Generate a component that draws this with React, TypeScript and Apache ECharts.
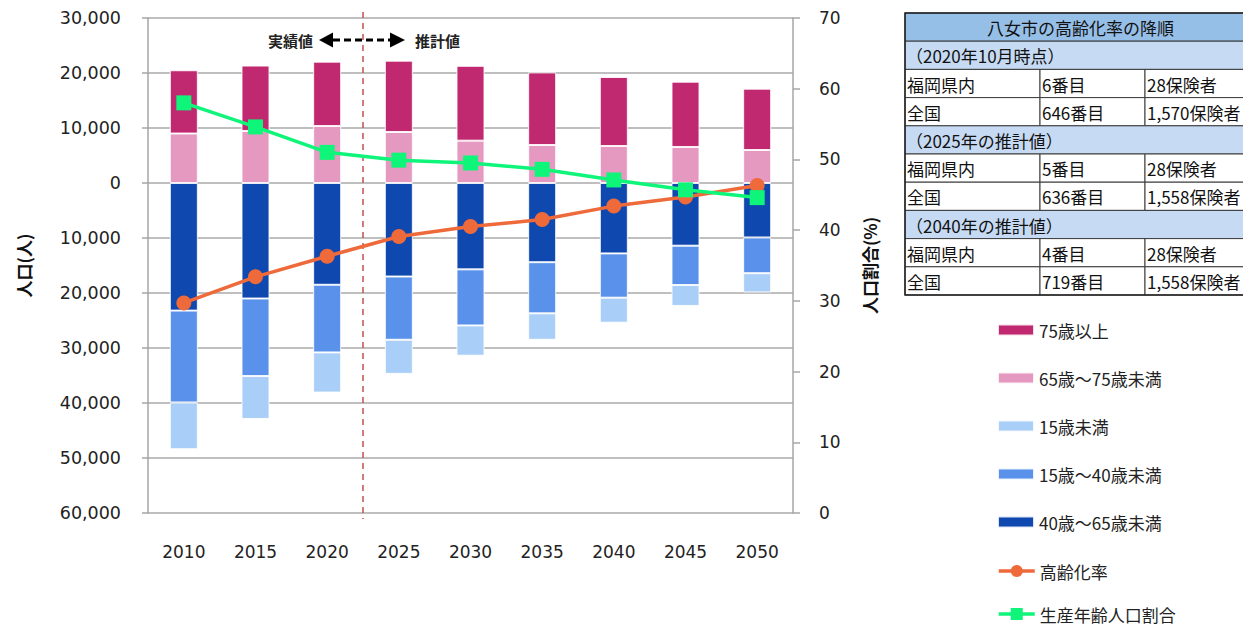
import React, { useEffect, useRef } from "react";
import * as echarts from "echarts";

const years = ["2010", "2015", "2020", "2025", "2030", "2035", "2040", "2045", "2050"];
const age75plus = [11500, 11900, 11700, 12970, 13600, 13200, 12540, 11870, 11150];
const age65to75 = [9000, 9450, 10360, 9270, 7700, 6910, 6730, 6550, 6000];
const under15 = [8500, 7800, 7300, 6200, 5500, 4800, 4550, 3800, 3500];
const age15to40 = [16700, 14100, 12300, 11500, 10200, 9300, 8050, 7150, 6500];
const age40to65 = [23200, 21000, 18500, 17000, 15700, 14400, 12800, 11400, 9900];
const agingRate = [29.7, 33.4, 36.3, 39.1, 40.5, 41.5, 43.4, 44.7, 46.3];
const workingRate = [58.0, 54.6, 51.0, 49.9, 49.5, 48.6, 47.1, 45.7, 44.6];

const barLegendNames = ["75歳以上", "65歳～75歳未満", "15歳未満", "15歳～40歳未満", "40歳～65歳未満"];
const lineLegendNames = ["高齢化率", "生産年齢人口割合"];

const tableTitle = "八女市の高齢化率の降順";
const tableSections = [
  { title: "（2020年10月時点）", rows: [["福岡県内", "6番目", "28保険者"], ["全国", "646番目", "1,570保険者"]] },
  { title: "（2025年の推計値）", rows: [["福岡県内", "5番目", "28保険者"], ["全国", "636番目", "1,558保険者"]] },
  { title: "（2040年の推計値）", rows: [["福岡県内", "4番目", "28保険者"], ["全国", "719番目", "1,558保険者"]] },
];

const FONT = '"DejaVu Sans", "Noto Sans CJK JP", sans-serif';
const CJK = '"Noto Sans CJK JP", "DejaVu Sans", sans-serif';

function buildTable(): any[] {
  const x0 = 905;
  const x1 = 1040;
  const x2 = 1145;
  const xEnd = 1256;
  const top = 13;
  const rh = 28.2;
  const els: any[] = [];
  const border = "#3a3a3a";
  let y = top;
  const addText = (t: string, x: number, yy: number, align = "left") =>
    els.push({
      type: "text",
      x,
      y: yy + rh / 2 + 0.5,
      style: { text: t, font: `17px ${CJK}`, fill: "#111", textAlign: align, textVerticalAlign: "middle" },
      z: 10,
    });
  els.push({ type: "rect", shape: { x: x0, y, width: xEnd - x0, height: rh }, style: { fill: "#96bfe8", stroke: border, lineWidth: 1 } });
  addText(tableTitle, (x0 + xEnd) / 2, y, "center");
  y += rh;
  tableSections.forEach((sec) => {
    els.push({ type: "rect", shape: { x: x0, y, width: xEnd - x0, height: rh }, style: { fill: "#c6dbf3", stroke: border, lineWidth: 1 } });
    addText(sec.title, x0 + 1, y);
    y += rh;
    sec.rows.forEach((r) => {
      els.push({ type: "rect", shape: { x: x0, y, width: x1 - x0, height: rh }, style: { fill: "#fff", stroke: border, lineWidth: 1 } });
      els.push({ type: "rect", shape: { x: x1, y, width: x2 - x1, height: rh }, style: { fill: "#fff", stroke: border, lineWidth: 1 } });
      els.push({ type: "rect", shape: { x: x2, y, width: xEnd - x2, height: rh }, style: { fill: "#fff", stroke: border, lineWidth: 1 } });
      addText(r[0], x0 + 2, y);
      addText(r[1], x1 + 2, y);
      addText(r[2], x2 + 2, y);
      y += rh;
    });
  });
  els.push({ type: "rect", shape: { x: x0, y: top, width: xEnd - x0, height: y - top }, style: { fill: "none", stroke: "#222", lineWidth: 1.5 }, z: 11 });
  return els;
}

export default function App() {
  const ref = useRef<HTMLDivElement>(null);
  useEffect(() => {
    document.body.style.margin = "0";
    const chart = echarts.init(ref.current!, null, { renderer: "svg" });
    const barBase = { type: "bar", stack: "pop", barWidth: 28, itemStyle: { borderColor: "rgba(255,255,255,0.85)", borderWidth: 1 } };
    const legendText = { fontFamily: CJK, fontSize: 17, color: "#222", lineHeight: 18 };
    const option: any = {
      animation: false,
      textStyle: { fontFamily: FONT },
      grid: { left: 148, top: 18, width: 645, height: 495, containLabel: false },
      legend: [
        {
          orient: "vertical",
          left: 997,
          top: 321,
          padding: 0,
          itemWidth: 36,
          itemHeight: 11,
          itemGap: 30,
          data: barLegendNames.map((n) => ({ name: n, icon: "rect" })),
          textStyle: legendText,
        },
        {
          orient: "vertical",
          left: 997,
          top: 562,
          padding: 0,
          itemWidth: 36,
          itemHeight: 15,
          itemGap: 25,
          data: lineLegendNames,
          lineStyle: { width: 3.5 },
          textStyle: legendText,
        },
      ],
      xAxis: {
        type: "category",
        data: years,
        axisLine: { show: false },
        axisTick: { show: false },
        axisLabel: { fontSize: 17, color: "#222", margin: 30, fontFamily: FONT },
      },
      yAxis: [
        {
          type: "value",
          min: -60000,
          max: 30000,
          interval: 10000,
          name: "人口(人)",
          nameLocation: "middle",
          nameGap: 116,
          nameRotate: 90,
          nameTextStyle: { fontFamily: CJK, fontSize: 17, fontWeight: "bold", color: "#111" },
          axisLine: { show: true, lineStyle: { color: "#a6a6a6", width: 1.5 } },
          axisTick: { show: true, length: 6, lineStyle: { color: "#a6a6a6", width: 1.5 } },
          axisLabel: {
            fontSize: 17.5,
            color: "#222",
            margin: 27,
            formatter: (v: number) => Math.abs(v).toLocaleString("en-US"),
          },
          splitLine: { show: true, lineStyle: { color: "#bfbfbf", width: 2 } },
        },
        {
          type: "value",
          min: 0,
          max: 70,
          interval: 10,
          name: "人口割合(%)",
          nameLocation: "middle",
          nameGap: 68,
          nameRotate: 90,
          nameTextStyle: { fontFamily: CJK, fontSize: 17, fontWeight: "bold", color: "#111" },
          axisLine: { show: true, lineStyle: { color: "#a6a6a6", width: 1.5 } },
          axisTick: { show: true, length: 7, lineStyle: { color: "#a6a6a6", width: 1.5 } },
          axisLabel: { fontSize: 17, color: "#222", margin: 26 },
          splitLine: { show: false },
        },
      ],
      series: [
        { ...barBase, name: "65歳～75歳未満", data: age65to75, itemStyle: { ...barBase.itemStyle, color: "#e699c0" } },
        { ...barBase, name: "75歳以上", data: age75plus, itemStyle: { ...barBase.itemStyle, color: "#c0296f" } },
        { ...barBase, name: "40歳～65歳未満", data: age40to65.map((v) => -v), itemStyle: { ...barBase.itemStyle, color: "#0f48af" } },
        { ...barBase, name: "15歳～40歳未満", data: age15to40.map((v) => -v), itemStyle: { ...barBase.itemStyle, color: "#5a92eb" } },
        { ...barBase, name: "15歳未満", data: under15.map((v) => -v), itemStyle: { ...barBase.itemStyle, color: "#a9cef7" } },
        {
          type: "line",
          name: "高齢化率",
          yAxisIndex: 1,
          data: agingRate,
          symbol: "circle",
          symbolSize: 15,
          lineStyle: { color: "#ee6a3a", width: 3.5 },
          itemStyle: { color: "#ee6a3a" },
          z: 5,
        },
        {
          type: "line",
          name: "生産年齢人口割合",
          yAxisIndex: 1,
          data: workingRate,
          symbol: "rect",
          symbolSize: 15,
          lineStyle: { color: "#0ff57a", width: 3.5 },
          itemStyle: { color: "#0ff57a" },
          z: 6,
        },
      ],
    };
    chart.setOption(option);

    const pa = chart.convertToPixel({ xAxisIndex: 0 }, "2020") as number;
    const pb = chart.convertToPixel({ xAxisIndex: 0 }, "2025") as number;
    const mx = (pa + pb) / 2;
    const ay = 40;
    const graphic: any[] = [
      {
        type: "line",
        shape: { x1: mx, y1: 12, x2: mx, y2: 519 },
        style: { stroke: "#c0504d", lineWidth: 1.5, lineDash: [6, 5] },
        z: 3,
      },
      {
        type: "text",
        x: mx - 50,
        y: ay,
        style: { text: "実績値", font: `bold 15px ${CJK}`, fill: "#222", textAlign: "right", textVerticalAlign: "middle" },
      },
      {
        type: "text",
        x: mx + 52,
        y: ay,
        style: { text: "推計値", font: `bold 15px ${CJK}`, fill: "#222", textAlign: "left", textVerticalAlign: "middle" },
      },
      { type: "polygon", shape: { points: [[mx - 44, ay], [mx - 30, ay - 7.5], [mx - 30, ay + 7.5]] }, style: { fill: "#000" } },
      { type: "polygon", shape: { points: [[mx + 42, ay], [mx + 27, ay - 7.5], [mx + 27, ay + 7.5]] }, style: { fill: "#000" } },
      {
        type: "line",
        shape: { x1: mx - 30, y1: ay, x2: mx + 27, y2: ay },
        style: { stroke: "#000", lineWidth: 3, lineDash: [7, 4] },
      },
      ...buildTable(),
    ];
    chart.setOption({ graphic });

    return () => chart.dispose();
  }, []);
  return <div ref={ref} style={{ width: 1243, height: 628 }} />;
}
